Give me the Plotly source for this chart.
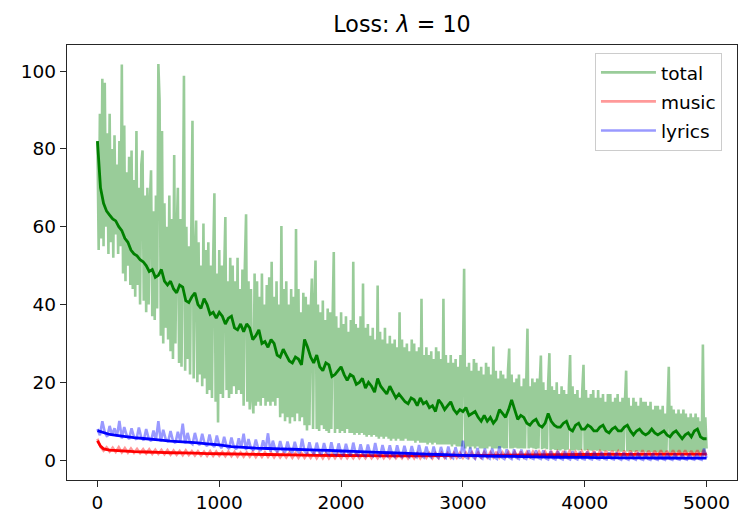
import plotly.graph_objects as go

# ---- data ----
# raw total loss, one value every 10 steps (0..5000), one row per 100 steps
total_raw_steps = list(range(0, 5001, 10))
total_raw = [
    82, 54, 89, 57, 98, 55, 97, 60, 84, 53,
    89, 56, 80, 52, 83.5, 58, 76, 53, 82, 55,
    101.7, 48, 86, 46, 74, 50, 78, 45, 79.6, 44,
    72, 42, 84.6, 45, 70, 40, 76, 79.6, 41, 68,
    38, 70, 40, 66, 74.5, 37, 64, 36, 68, 39,
    101.8, 92.5, 32, 84.6, 30, 66, 34, 60, 31, 68,
    28, 62, 26, 78.4, 30, 58, 70, 25, 62, 24,
    56, 98.8, 23, 60, 26, 55, 22, 58, 87.2, 21,
    52, 61.6, 20, 56, 22, 50, 19, 60.8, 21, 54,
    17, 56, 18, 50, 16, 52, 68.6, 15, 48, 9.7,
    54, 17, 50, 16, 48, 62.5, 18, 46, 16, 52,
    17, 50, 19, 46, 17, 52, 18, 44, 17, 49,
    14, 50, 63.2, 15, 46, 13, 44, 16, 12, 48,
    14, 46, 15, 42, 14, 48, 16, 40, 14, 45,
    15, 47, 14, 51, 15, 42, 14, 46, 16, 40,
    11, 60.2, 12, 44, 10, 46, 11, 40, 9.4, 44,
    11, 42, 10, 59.4, 12, 44, 10, 38, 11, 43,
    9, 42, 7.6, 40, 9, 38, 46.7, 8, 40, 51.3,
    8, 40, 7.5, 38, 9, 41, 8, 36, 7.5, 39,
    7, 38, 8, 36, 53.5, 7, 37, 8, 34, 7,
    38, 7.5, 35, 7, 37, 8, 33, 7, 36, 7,
    51, 6.5, 35, 7, 34, 6.5, 37, 7, 45.4, 6.5,
    34, 6, 35, 6.5, 32, 6, 34, 6.5, 31, 6,
    44.9, 5.5, 33, 6, 31, 5.5, 34, 6, 30, 5.5,
    32, 5, 30, 5.5, 31, 5, 29, 5.5, 38, 5,
    31, 5, 29, 5.5, 30, 5, 28, 5, 31, 5,
    30, 4.5, 28, 5, 29, 4.5, 41.5, 4.5, 27, 4.5,
    29, 4, 27, 4.5, 28, 4, 26, 4.5, 29, 4,
    28, 4, 26, 4, 41.5, 4, 27, 4, 25, 4,
    27, 3.5, 25, 4, 26, 3.5, 24, 3.5, 27, 3.5,
    26, 49.2, 3, 24, 3.5, 25, 3, 23, 3.5, 26,
    3, 25, 3.5, 23, 3, 24, 3, 22, 3, 25,
    3, 24, 3.5, 22, 3, 29.2, 3, 23, 3, 21,
    3, 23, 3.2, 22, 3, 21, 3, 23, 28.7, 3,
    22, 3, 20, 3.2, 21, 3, 22, 3, 19, 3,
    21, 3, 20, 33.8, 3, 19, 3.2, 21, 3, 20,
    2.8, 21, 3, 19, 26.9, 2.8, 20, 3, 18, 2.8,
    20, 27.5, 2.6, 19, 2.8, 18, 2.6, 20, 2.6, 17,
    2.5, 19, 2.8, 18, 2.5, 17, 2.7, 19, 27, 2.5,
    19, 2.5, 17, 2.7, 18, 2.5, 16, 2.6, 18, 24.5,
    2.5, 18, 2.6, 16, 2.5, 17, 2.4, 18, 2.6, 16,
    2.4, 18, 2.5, 16, 2.4, 17, 2.3, 15, 2.5, 17,
    2.3, 17, 2.4, 15, 2.3, 16, 2.2, 17, 2.4, 15,
    2.2, 16, 2.3, 15, 23, 2.2, 16, 2.3, 14, 2.2,
    16, 2.2, 15, 2.3, 14, 2.2, 16, 2.1, 15, 2.2,
    15, 2.1, 14, 2.2, 15, 2.1, 13, 2.2, 14, 2.1,
    14, 2, 13, 2.1, 14, 2, 12, 2.1, 13, 24,
    2, 14, 2.1, 13, 2, 12, 2.1, 13, 2, 12,
    2, 13, 2.1, 12, 2, 11, 2.1, 12, 2, 11,
    2, 12, 2.1, 11, 2, 10, 2.1, 29.7, 2, 11,
    3,
]

# smoothed total loss, every 25 steps, one row per 200 steps
total_smooth_steps = list(range(0, 5001, 25))
total_smooth = [
    82, 70, 66, 64, 63, 62, 61.5, 60,
    59, 57, 56, 54, 53, 52.5, 51.5, 51,
    50, 48.5, 49, 47, 47.5, 49, 46, 45,
    46, 44, 43, 45, 44.5, 41, 40.5, 42,
    43, 40, 39, 41.5, 40, 37.5, 38, 36.5,
    38, 37, 35, 36.5, 37, 34, 33.5, 35,
    33, 35, 34, 31, 32, 33.5, 30, 30.5,
    29, 31, 30, 27, 26.5, 28.5, 27, 25.5,
    25, 26.5, 26, 24.5, 31, 29, 26.5, 25,
    27, 24, 23, 25, 24.5, 21.5, 22, 23,
    24, 22, 20.5, 22, 21.5, 19.5, 20, 21,
    18.5, 20, 19, 17.5, 21, 19, 18, 17,
    19, 17.5, 16, 17, 16, 15, 14.5, 16,
    15.5, 14, 16, 14.5, 15, 13.5, 14, 12.5,
    15.5, 14.5, 13, 14, 15, 13, 12, 13,
    12.5, 13.5, 11.5, 12, 12.5, 11, 10, 11.5,
    10, 11, 9.5, 10.5, 13, 12, 11, 13,
    15.5, 13, 10.5, 11.5, 11, 9.5, 9, 10,
    10.5, 9, 8.5, 9.5, 12, 10, 9, 8.5,
    8.5, 9.5, 10, 8, 7.5, 9, 9.5, 8,
    8, 9, 8.5, 7.5, 7.5, 8.5, 9, 7.5,
    7, 8, 8.5, 7.5, 7.5, 8.5, 9, 7.5,
    6.5, 7.5, 8, 7, 6.5, 7, 8, 7,
    6.5, 7, 7.5, 6.5, 6, 7, 7.5, 6.5,
    5.5, 6.5, 7, 6, 7.5, 8, 6, 5.5,
    5.5,
]

# raw music loss, every 25 steps
music_raw_steps = list(range(0, 5001, 25))
music_raw = [
    5.5, 3.4, 2.4, 3.3, 2.2, 3.2, 2.1, 3.3,
    2.0, 3.1, 1.9, 3.0, 1.9, 2.9, 1.8, 2.8,
    1.7, 2.8, 1.6, 2.7, 1.6, 2.6, 1.5, 2.6,
    1.4, 2.5, 1.4, 2.4, 1.3, 2.5, 1.3, 2.3,
    1.2, 2.3, 1.2, 2.2, 1.1, 2.3, 1.1, 2.2,
    1.1, 2.1, 1.0, 2.2, 1.0, 2.1, 0.9, 2.0,
    0.9, 2.0, 0.9, 2.1, 0.8, 1.9, 0.8, 2.0,
    0.8, 1.9, 0.7, 1.9, 0.7, 1.8, 0.7, 1.9,
    0.6, 1.8, 0.6, 1.8, 0.6, 1.7, 0.6, 1.8,
    0.5, 1.7, 0.5, 1.8, 0.5, 1.7, 0.5, 1.7,
    0.5, 1.7, 0.5, 1.6, 0.5, 1.7, 0.5, 1.6,
    0.5, 1.7, 0.5, 1.6, 0.5, 1.7, 0.5, 1.7,
    0.5, 1.7, 0.5, 1.6, 0.5, 1.8, 0.5, 1.7,
    0.5, 1.8, 0.5, 1.7, 0.6, 1.8, 0.5, 1.8,
    0.6, 1.9, 0.6, 1.8, 0.6, 1.9, 0.6, 1.9,
    0.6, 1.9, 0.7, 2.0, 0.6, 1.9, 0.7, 2.0,
    0.7, 2.0, 0.7, 2.1, 0.7, 2.0, 0.8, 2.1,
    0.8, 2.1, 0.8, 2.2, 0.8, 2.1, 0.8, 2.2,
    0.9, 2.2, 0.9, 2.2, 0.9, 2.3, 0.9, 2.2,
    0.9, 2.3, 0.9, 2.3, 1.0, 2.2, 0.9, 2.3,
    1.0, 2.3, 1.0, 2.4, 1.0, 2.3, 1.0, 2.4,
    1.0, 2.4, 1.0, 2.3, 1.0, 2.4, 1.0, 2.4,
    1.0, 2.4, 1.0, 2.5, 1.0, 2.4, 1.0, 2.4,
    1.0, 2.5, 1.0, 2.4, 1.0, 2.5, 1.0, 2.5,
    1.0, 2.5, 1.0, 2.4, 1.0, 2.5, 1.0, 2.6,
    1.2,
]

# raw lyrics loss, every 20 steps, one row per 200 steps
lyrics_raw_steps = list(range(0, 5001, 20))
lyrics_raw = [
    8.0, 6.4, 10.0, 7.2, 6.0, 8.8, 6.5, 8.2, 6.1, 10.1,
    5.6, 8.5, 6.4, 5.4, 8.2, 6.0, 5.3, 8.4, 5.8, 5.1,
    8.0, 5.6, 4.9, 7.6, 5.2, 10.0, 4.8, 7.8, 5.4, 4.7,
    7.5, 5.0, 4.4, 7.3, 4.9, 9.4, 4.3, 7.0, 4.6, 4.1,
    7.0, 4.5, 3.9, 6.8, 4.2, 3.6, 6.6, 4.0, 3.4, 6.3,
    3.9, 3.1, 6.0, 3.6, 2.9, 5.8, 3.4, 2.8, 5.6, 3.3,
    6.8, 2.6, 5.4, 3.1, 2.5, 5.3, 3.0, 2.4, 5.1, 2.8,
    6.9, 2.2, 5.0, 2.7, 2.1, 4.9, 2.6, 2.0, 4.8, 2.5,
    1.9, 4.7, 2.4, 1.8, 5.5, 2.3, 1.7, 4.6, 2.2, 1.6,
    4.5, 2.1, 1.5, 4.4, 2.0, 1.5, 4.6, 1.9, 1.4, 4.3,
    1.8, 1.3, 4.2, 1.8, 1.2, 4.5, 1.7, 1.2, 4.1, 1.6,
    1.1, 4.0, 1.6, 1.1, 4.4, 1.5, 1.0, 3.9, 1.5, 1.0,
    3.8, 1.4, 0.9, 3.8, 1.4, 0.9, 3.7, 1.3, 0.8, 3.6,
    1.3, 0.8, 3.9, 1.2, 0.7, 3.5, 1.2, 0.7, 3.5, 1.1,
    0.6, 3.4, 1.1, 0.6, 3.5, 1.0, 0.5, 3.3, 1.0, 0.5,
    5.0, 0.9, 0.5, 3.2, 0.9, 0.4, 3.1, 0.8, 0.4, 3.0,
    0.8, 0.4, 3.0, 0.7, 0.3, 3.6, 0.7, 0.3, 2.8, 0.7,
    0.3, 2.8, 0.6, 0.3, 2.7, 0.6, 0.3, 2.6, 0.6, 0.3,
    2.5, 0.6, 0.3, 2.5, 0.5, 0.2, 2.4, 0.5, 0.2, 2.4,
    0.5, 0.2, 2.3, 0.5, 0.2, 2.3, 0.5, 0.2, 2.2, 0.4,
    0.2, 2.2, 0.4, 0.2, 2.1, 0.4, 0.2, 2.1, 0.4, 0.2,
    2.0, 0.4, 0.2, 2.0, 0.4, 0.1, 1.9, 0.4, 0.1, 1.9,
    0.4, 0.1, 1.9, 0.3, 0.1, 1.8, 0.3, 0.1, 1.8, 0.3,
    0.1, 1.7, 0.3, 0.1, 1.7, 0.3, 0.1, 1.7, 0.3, 0.1,
    1.6, 0.3, 0.1, 1.6, 0.3, 0.1, 1.6, 0.3, 0.1, 3.0,
    0.6,
]

# smoothed music / lyrics losses
music_smooth_steps = [0, 25, 50, 100, 200, 300, 400, 500, 600, 700, 800, 900,
                      1000, 1200, 1400, 1600, 1800, 2000, 2200, 2400, 2600,
                      2800, 3000, 3200, 3400, 3600, 3800, 4000, 4200, 4400,
                      4600, 4800, 5000]
music_smooth = [5.0, 3.6, 2.9, 2.6, 2.4, 2.2, 2.1, 2.0, 1.9, 1.85, 1.8, 1.7,
                1.65, 1.55, 1.45, 1.35, 1.25, 1.2, 1.15, 1.1, 1.1,
                1.15, 1.2, 1.25, 1.3, 1.35, 1.4, 1.45, 1.5, 1.5,
                1.55, 1.55, 1.55]

lyrics_smooth_steps = list(range(0, 5001, 100))
lyrics_smooth = [7.6, 6.6, 6.2, 5.8, 5.5, 5.2, 4.9, 4.7, 4.5, 4.2,
                 3.9, 3.5, 3.3, 3.1, 3.0, 2.9, 2.8, 2.7, 2.6, 2.5,
                 2.35, 2.25, 2.15, 2.0, 1.9, 1.8, 1.7, 1.55, 1.45, 1.35,
                 1.25, 1.15, 1.05, 1.0, 0.95, 0.9, 0.85, 0.8, 0.75, 0.7,
                 0.7, 0.65, 0.65, 0.6, 0.6, 0.6, 0.55, 0.55, 0.5, 0.5,
                 0.5]

FONT = "DejaVu Sans"

fig = go.Figure()

series = [
    ("total", total_raw_steps, total_raw, total_smooth_steps, total_smooth, (0, 128, 0)),
    ("music", music_raw_steps, music_raw, music_smooth_steps, music_smooth, (255, 0, 0)),
    ("lyrics", lyrics_raw_steps, lyrics_raw, lyrics_smooth_steps, lyrics_smooth, (0, 0, 255)),
]

for name, rx, ry, sx, sy, (r, g, b) in series:
    # noisy per-step loss, drawn faint
    fig.add_trace(go.Scatter(
        x=rx, y=ry, mode="lines", name=name, legendgroup=name,
        line=dict(color=f"rgba({r},{g},{b},0.4)", width=2.6, simplify=False),
    ))
    # running average on top
    fig.add_trace(go.Scatter(
        x=sx, y=sy, mode="lines", showlegend=False, legendgroup=name,
        line=dict(color=f"rgb({r},{g},{b})", width=2.8, simplify=False),
    ))

axis_style = dict(
    showgrid=False, zeroline=False,
    showline=True, mirror=True, linecolor="#262626", linewidth=1.3,
    ticks="outside", ticklen=6, tickwidth=1.3, tickcolor="#262626",
    tickfont=dict(family=FONT, size=18.5, color="black"),
)

fig.update_layout(
    width=750, height=527,
    margin=dict(l=67, r=13, t=45, b=47, pad=0),
    paper_bgcolor="white", plot_bgcolor="white",
    title=dict(text="Loss: <i>λ</i> = 10", x=0.5, xref="paper",
               y=1 - 24 / 527, yref="container", yanchor="middle",
               font=dict(family=FONT, size=22.2, color="black")),
    xaxis=dict(range=[-250, 5250], tickvals=[0, 1000, 2000, 3000, 4000, 5000], **axis_style),
    yaxis=dict(range=[-5.1, 106.7], tickvals=[0, 20, 40, 60, 80, 100], **axis_style),
    legend=dict(x=0.788, y=0.982, xanchor="left", yanchor="top",
                traceorder="grouped", tracegroupgap=2, itemwidth=55,
                bgcolor="rgba(255,255,255,0.8)", bordercolor="#cccccc", borderwidth=1,
                font=dict(family=FONT, size=18.5, color="black")),
    showlegend=True,
)

# page body has an 8px default margin; drop it so the figure sits at 0,0
fig.write_html("out.html", config={"displayModeBar": False},
               post_script="document.body.style.margin='0px';")
